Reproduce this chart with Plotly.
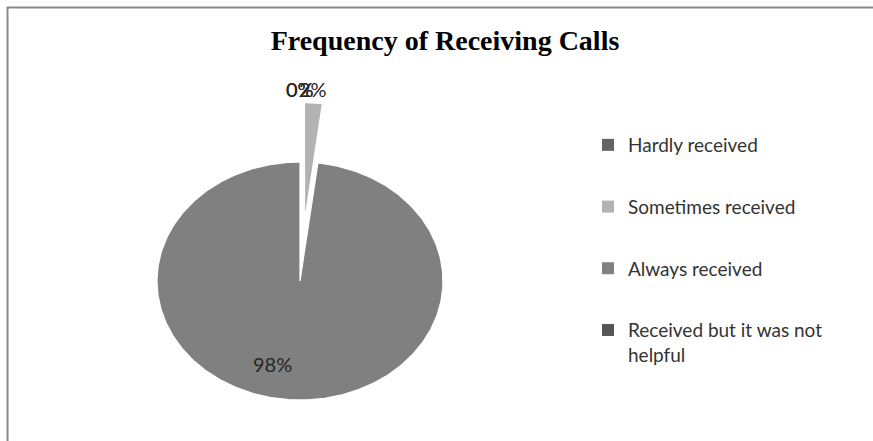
import numpy as np
import plotly.graph_objects as go

# Survey answers and their shares (%)
categories = [
    "Hardly received",
    "Sometimes received",
    "Always received",
    "Received but it was not helpful",
]
percent_values = [0, 2, 98, 0]

# Styling
slice_colors = ["#636363", "#b3b3b3", "#808080", "#555555"]
explode = [0, 0.5, 0, 0]

W, H = 873, 441
cx, cy, rx, ry = 300, 281, 143, 119   # pie centre and radii (pixel space)

fig = go.Figure()
annotations = []

total = float(sum(percent_values))
start = 0.0
for name, val, col, ex in zip(categories, percent_values, slice_colors, explode):
    frac = val / total
    a0, a1 = start * 2 * np.pi, (start + frac) * 2 * np.pi
    mid = (a0 + a1) / 2
    dx, dy = ex * rx * np.sin(mid), -ex * ry * np.cos(mid)
    if frac > 0:
        t = np.linspace(a0, a1, max(int(frac * 360), 2) + 1)
        xs = np.concatenate([[cx], cx + rx * np.sin(t), [cx]]) + dx
        ys = np.concatenate([[cy], cy - ry * np.cos(t), [cy]]) + dy
        fig.add_trace(go.Scatter(
            x=xs, y=ys, mode="lines", fill="toself", fillcolor=col,
            line=dict(color="white", width=1.2), showlegend=False,
            hoverinfo="skip",
        ))
    # data label
    if frac > 0.5:
        lx = cx + 0.7 * rx * np.sin(mid)
        ly = cy - 0.7 * ry * np.cos(mid)
        xshift = -21
    else:
        lx = cx + 1.5 * rx * np.sin(mid)
        ly = cy - 1.5 * ry * np.cos(mid) - 14
        xshift = 0
    annotations.append(dict(
        x=lx, y=ly, xref="x", yref="y", text=f"{val}%", showarrow=False,
        xshift=xshift, font=dict(family="Lato", size=20, color="#262626"),
    ))
    start += frac

# legend entries
for name, col in zip(categories, slice_colors):
    label = name.replace("it was not ", "it was not<br>")
    fig.add_trace(go.Scatter(
        x=[None], y=[None], mode="markers", name=label, legendgroup=name,
        marker=dict(symbol="square", size=12, color=col),
    ))

fig.update_layout(
    width=W, height=H,
    margin=dict(l=0, r=0, t=0, b=0),
    paper_bgcolor="white", plot_bgcolor="white",
    xaxis=dict(range=[0, W], visible=False, fixedrange=True),
    yaxis=dict(range=[H, 0], visible=False, fixedrange=True),
    title=dict(
        text="<b>Frequency of Receiving Calls</b>",
        x=445 / W, xanchor="center", y=1 - 40 / H, yanchor="middle",
        font=dict(family="Liberation Serif", size=28, color="black"),
    ),
    legend=dict(
        x=588 / W, xanchor="left", y=1 - 126 / H, yanchor="top",
        font=dict(family="Lato", size=19, color="#333333"),
        tracegroupgap=34, valign="top", bgcolor="rgba(0,0,0,0)",
    ),
    annotations=annotations,
    shapes=[
        dict(type="line", xref="paper", yref="paper",
             x0=7 / W, x1=1, y0=1 - 7.5 / H, y1=1 - 7.5 / H,
             line=dict(color="#888888", width=2)),
        dict(type="line", xref="paper", yref="paper",
             x0=7.5 / W, x1=7.5 / W, y0=0, y1=1 - 7 / H,
             line=dict(color="#888888", width=2)),
    ],
)

fig.write_html("out.html")
